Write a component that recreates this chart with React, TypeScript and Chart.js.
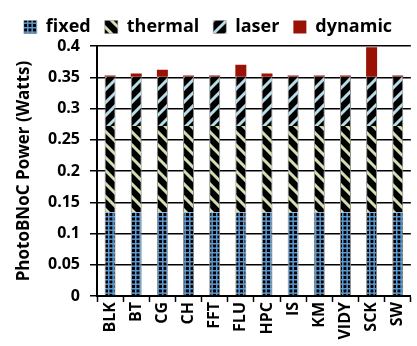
import React, { useEffect, useRef } from "react";
import { Chart, registerables } from "chart.js";

Chart.register(...registerables);

const categories = ["BLK", "BT", "CG", "CH", "FFT", "FLU", "HPC", "IS", "KM", "VIDY", "SCK", "SW"];
const fixedPower = [0.134, 0.134, 0.134, 0.134, 0.134, 0.134, 0.134, 0.134, 0.134, 0.134, 0.134, 0.134];
const thermalPower = [0.138, 0.138, 0.138, 0.138, 0.138, 0.138, 0.138, 0.138, 0.138, 0.138, 0.138, 0.138];
const laserPower = [0.079, 0.079, 0.079, 0.079, 0.079, 0.079, 0.079, 0.079, 0.079, 0.079, 0.079, 0.079];
const dynamicPower = [0.002, 0.005, 0.011, 0.002, 0.002, 0.019, 0.005, 0.002, 0.002, 0.002, 0.047, 0.002];
const yTicks = [0, 0.05, 0.1, 0.15, 0.2, 0.25, 0.3, 0.35, 0.4];

const FONT = "'Open Sans', 'DejaVu Sans', sans-serif";

function gridPattern(): CanvasPattern | string {
  const s = 4.4;
  const c = document.createElement("canvas");
  c.width = 9;
  c.height = 9;
  const g = c.getContext("2d")!;
  g.fillStyle = "#000";
  g.fillRect(0, 0, 9, 9);
  g.fillStyle = "#5b9bd5";
  g.fillRect(0, 0, 9, 1.5);
  g.fillRect(0, s, 9, 1.5);
  g.fillRect(0, 0, 1.5, 9);
  g.fillRect(s, 0, 1.5, 9);
  return g.createPattern(c, "repeat") || "#5b9bd5";
}

function stripePattern(color: string, forward: boolean): CanvasPattern | string {
  const s = 13;
  const c = document.createElement("canvas");
  c.width = s;
  c.height = s;
  const g = c.getContext("2d")!;
  g.fillStyle = "#000";
  g.fillRect(0, 0, s, s);
  g.strokeStyle = color;
  g.lineWidth = 3;
  g.beginPath();
  if (forward) {
    g.moveTo(-s, 2 * s); g.lineTo(2 * s, -s);
    g.moveTo(-2 * s, 2 * s); g.lineTo(s, -s);
    g.moveTo(0, 2 * s); g.lineTo(3 * s, -s);
  } else {
    g.moveTo(-s, -s); g.lineTo(2 * s, 2 * s);
    g.moveTo(-2 * s, -s); g.lineTo(s, 2 * s);
    g.moveTo(0, -s); g.lineTo(3 * s, 2 * s);
  }
  g.stroke();
  return g.createPattern(c, "repeat") || color;
}

export default function App() {
  const ref = useRef<HTMLCanvasElement>(null);
  useEffect(() => {
    if (!ref.current) return;
    const common = {
      borderColor: "#8a8a8a",
      borderWidth: { left: 1, right: 1, top: 0, bottom: 0 },
      borderSkipped: false,
      categoryPercentage: 1.0,
      barPercentage: 0.42,
    };
    const chart = new Chart(ref.current, {
      type: "bar",
      data: {
        labels: categories,
        datasets: [
          { label: "fixed", data: fixedPower, backgroundColor: gridPattern() as any, ...common },
          { label: "thermal", data: thermalPower, backgroundColor: stripePattern("#d2e0b0", false) as any, ...common },
          { label: "laser", data: laserPower, backgroundColor: stripePattern("#b7dee8", true) as any, ...common },
          { label: "dynamic", data: dynamicPower, backgroundColor: "#9a1206", ...common, borderWidth: 0 },
        ] as any,
      },
      options: {
        animation: false,
        responsive: true,
        maintainAspectRatio: false,
        layout: { padding: { top: 4, right: 1, left: 0, bottom: 0 } },
        plugins: {
          legend: {
            display: true,
            position: "top",
            labels: {
              boxWidth: 13,
              boxHeight: 13,
              padding: 14,
              color: "#000",
              font: { family: FONT, size: 18, weight: "bold" },
            },
          },
          tooltip: { enabled: false },
        },
        scales: {
          x: {
            stacked: true,
            afterFit: (s: any) => { s.height = 50; },
            grid: {
              display: true,
              offset: true,
              drawOnChartArea: false,
              drawTicks: true,
              tickLength: 6,
              tickColor: "#000",
              tickWidth: 1.5,
            },
            border: { display: true, color: "#000", width: 2 },
            ticks: {
              color: "#000",
              minRotation: 90,
              maxRotation: 90,
              autoSkip: false,
              padding: 0,
              font: { family: FONT, size: 16, weight: "bold" },
            },
          },
          y: {
            stacked: true,
            min: 0,
            max: 0.4,
            afterBuildTicks: (s: any) => { s.ticks = yTicks.map((v) => ({ value: v })); },
            afterFit: (s: any) => { s.width = 97; },
            grid: {
              display: true,
              color: "#000",
              lineWidth: 1.5,
              borderDash: [5, 3],
              drawTicks: true,
              tickLength: 7,
              tickColor: "#000",
              tickWidth: 1.5,
              tickBorderDash: [],
            } as any,
            border: { display: true, color: "#000", width: 2 },
            ticks: {
              color: "#000",
              padding: 10,
              font: { family: FONT, size: 16, weight: "bold" },
              callback: (v: any) => String(Number(v)),
            },
            title: {
              display: true,
              text: "PhotoBNoC Power (Watts)",
              color: "#000",
              padding: { top: 14, bottom: 0 },
              font: { family: FONT, size: 17, weight: "bold" },
            },
          },
        },
      } as any,
    });
    return () => chart.destroy();
  }, []);
  return (
    <div style={{ position: "fixed", left: 0, top: 0, width: 417, height: 346, background: "#fff" }}>
      <canvas ref={ref} />
    </div>
  );
}
